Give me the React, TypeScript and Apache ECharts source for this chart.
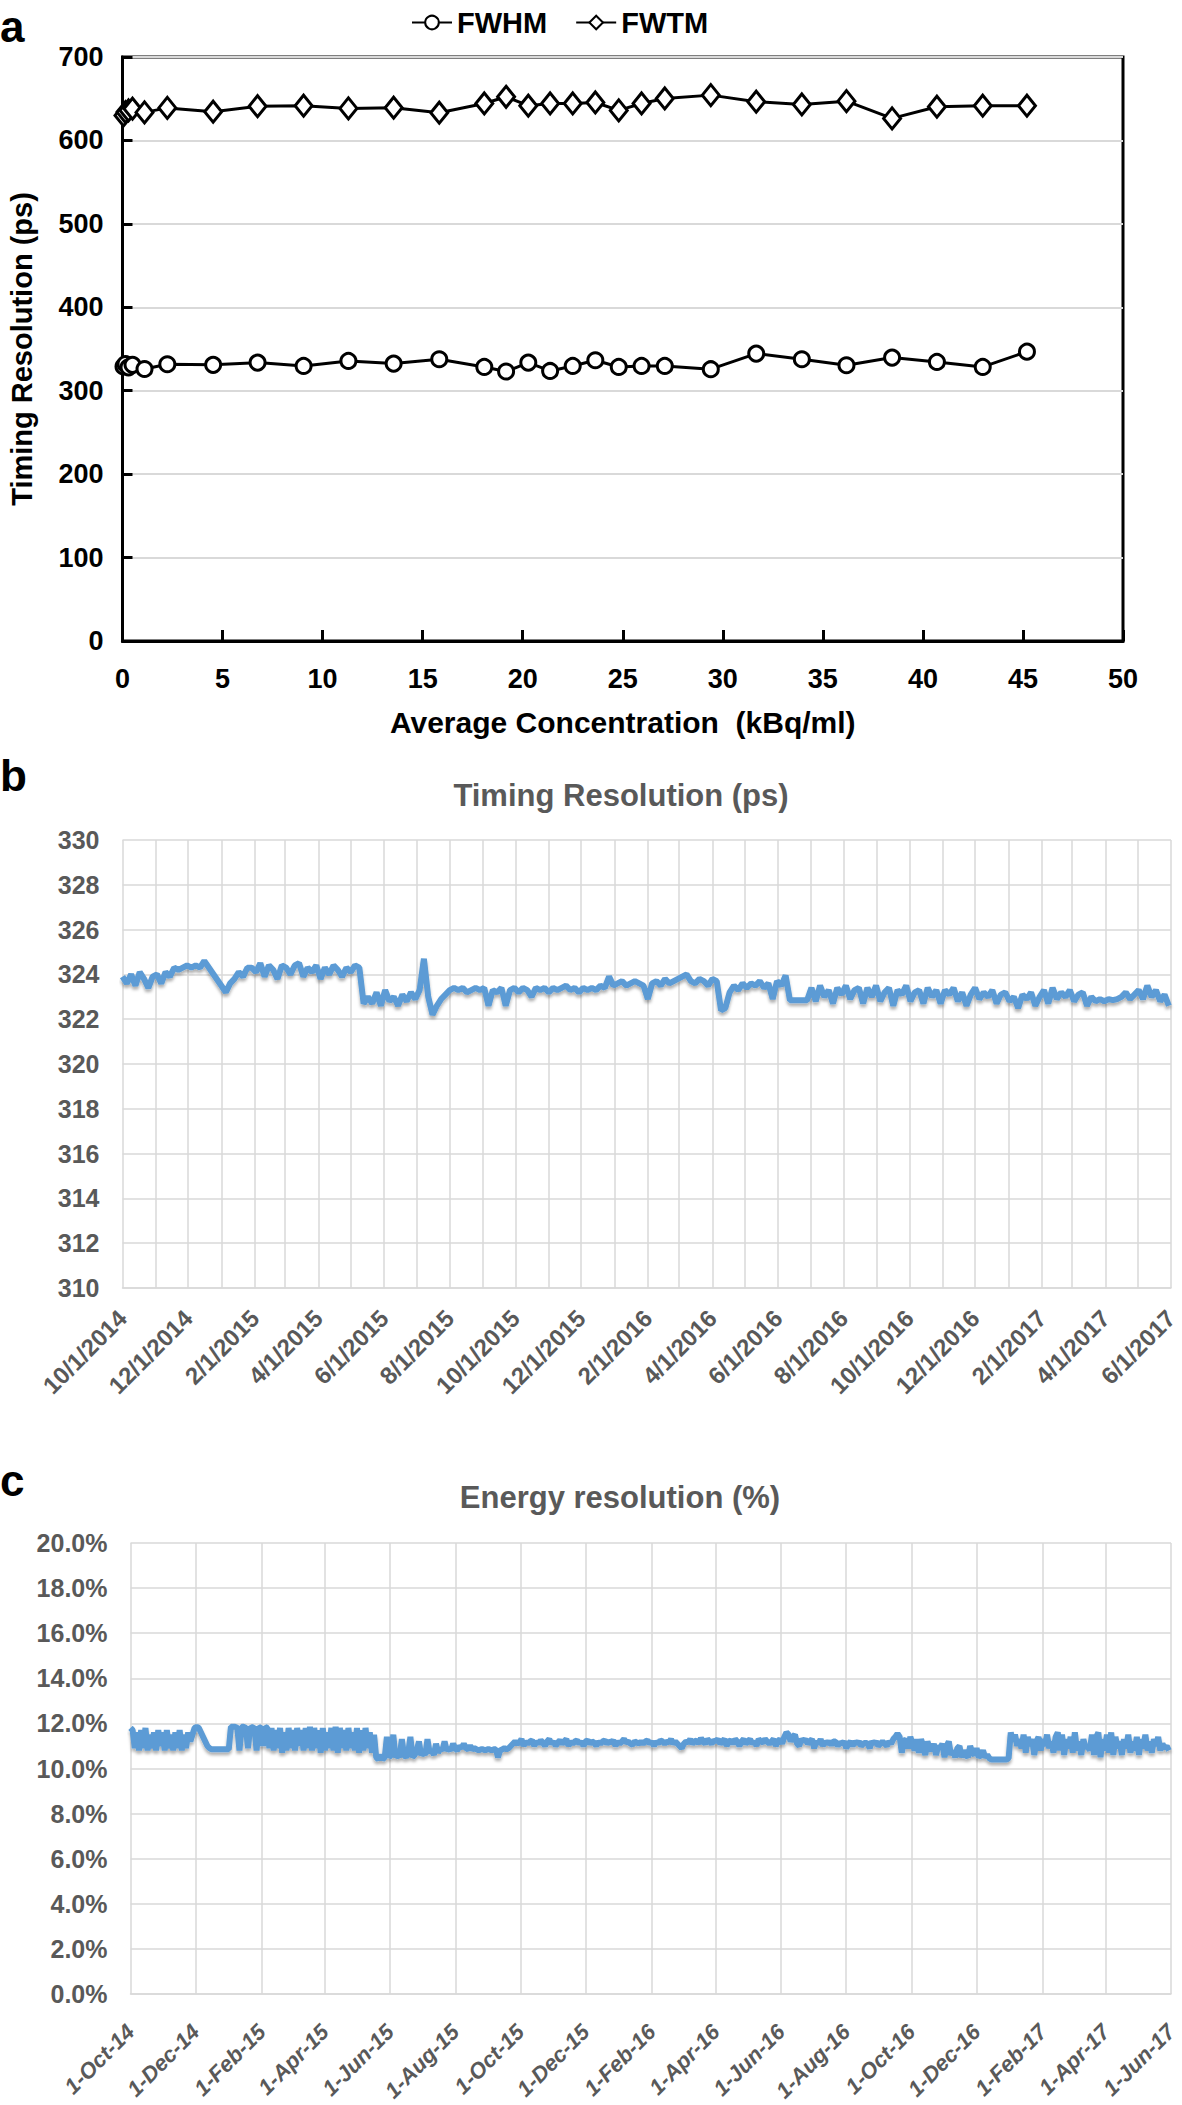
import React, { useEffect, useRef } from "react";
import * as echarts from "echarts";

// ---------- Panel a: timing resolution vs. activity concentration ----------
const concentration = [
  0.05, 0.15, 0.3, 0.5, 1.1, 2.24, 4.53, 6.75, 9.05, 11.29, 13.55, 15.83, 18.08, 19.17,
  20.28, 21.37, 22.5, 23.63, 24.8, 25.94, 27.1, 29.4, 31.67, 33.95, 36.18, 38.46, 40.7,
  42.99, 45.2,
];
const fwhm = [
  329, 332, 328, 331, 326, 331.7, 331, 333.7, 329.7, 335.7, 332.5, 337.7, 328.5, 323,
  333.7, 323.7, 329.7, 336.5, 328.5, 329.7, 329.7, 325.8, 344.5, 337.7, 330.5, 339.7,
  334.5, 328.5, 346.8,
];
const fwtm = [
  630, 634, 636, 638, 633.6, 639, 634.4, 641, 641.6, 638.4, 639.2, 633.2, 644.3, 652.3,
  641.6, 644.3, 644.3, 645.5, 636, 644.3, 650.3, 654.3, 646.4, 643.1, 647.1, 626.4,
  640.4, 641.6, 641.6,
];

// ---------- Panels b / c: daily monitoring (sampled) ----------
const PERIOD_START_UTC = Date.UTC(2014, 9, 1);
const PERIOD_END_UTC = Date.UTC(2017, 5, 1);
const TIMING_STEP_DAYS = 4;
const ENERGY_STEP_DAYS = 2;
const MONTH_ABBR = ["Jan", "Feb", "Mar", "Apr", "May", "Jun", "Jul", "Aug", "Sep", "Oct", "Nov", "Dec"];

// Timing resolution (ps), one sample every 4 days; null = gap bridged by a straight line
const timingResolution = [
  323.9, 323.6, 324.0, 323.5, 324.1, 323.8, 323.4, 323.9, 324.0, 323.6,
  324.1, 323.9, 324.3, 324.2, 324.3, 324.4, 324.3, 324.4, 324.3, 324.6,
  null, null, null, null, 323.2, 323.6, 323.8, 324.1, 323.9, 324.3,
  324.3, 324.1, 324.5, 323.9, 324.4, 324.2, 323.8, 324.4, 324.3, 324.0,
  324.4, 324.5, 323.9, 324.3, 324.1, 324.4, 323.8, 324.3, 324.0, 324.4,
  324.2, 323.9, 324.3, 324.1, 324.4, 324.3, 322.7, 323.0, 322.7, 323.2,
  322.6, 323.3, 322.8, 323.0, 322.6, 323.1, 322.8, 323.2, 322.9, 323.3,
  324.7, 323.0, 322.2, 322.6, 322.9, 323.1, 323.3, 323.4, 323.3, 323.4,
  323.2, 323.3, 323.4, 323.3, 323.4, 322.6, 323.3, 323.2, 323.4, 322.6,
  323.3, 323.4, 323.2, 323.4, 323.3, 323.0, 323.4, 323.3, 323.4, 323.2,
  323.4, 323.3, 323.4, 323.5, 323.3, 323.4, 323.2, 323.4, 323.3, 323.4,
  323.3, 323.5, 323.4, 323.9, 323.5, 323.6, 323.7, 323.5, 323.6, 323.7,
  323.6, 323.5, 322.9, 323.6, 323.7, 323.5, 323.8, 323.6, 323.7, 323.8,
  323.9, 324.0, 323.7, 323.6, 323.8, 323.7, 323.5, 323.8, 323.7, 322.4,
  322.5, 323.2, 323.5, 323.3, 323.6, 323.4, 323.6, 323.5, 323.7, 323.4,
  323.6, 322.9, 323.7, 323.5, 323.95, 322.85, null, null, null, 322.85,
  323.4, 322.8, 323.5, 323.0, 323.3, 322.7, 323.4, 323.1, 323.5, 322.9,
  323.3, 323.4, 322.7, 323.4, 323.0, 323.5, 322.8, 323.2, 323.4, 322.6,
  323.3, 323.1, 323.5, 322.8, 323.2, 323.3, 322.7, 323.4, 323.0, 323.3,
  322.7, 323.3, 323.1, 323.4, 322.8, 323.2, 322.6, 323.1, 323.4, 322.9,
  323.2, 323.0, 323.3, 322.7, 323.1, 323.2, 322.8, 323.0, 322.5, 323.1,
  322.9, 323.2, 322.6, 323.0, 323.3, 322.7, 323.4, 322.9, 323.2, 323.0,
  323.3, 322.8, 323.1, 323.2, 322.6, 323.0, 322.8, 322.9, 322.8, 322.9,
  322.85, 322.9, 323.0, 323.2, 322.9, 323.1, 323.3, 322.9, 323.5, 323.0,
  323.3, 322.8, 323.1, 322.6,
];

// Energy resolution (%), one sample every 2 days; null = gap bridged by a straight line
const energyResolution = [
  // Oct 2014 - Jan 2015
  11.8, 11.7, 10.9, 11.6, 10.8, 11.7, 10.9, 11.8, 10.8, 11.5,
  10.9, 11.6, 10.8, 11.7, 11.0, 11.6, 10.8, 11.7, 10.9, 11.5,
  10.8, 11.6, 10.9, 11.7, 10.8, 11.5, 10.9, 11.6,
  11.2, 11.5, 11.8, 11.85, 11.8, 11.6, 11.4, 11.2, 11.0, 10.9, 10.85, 10.85,
  10.85, null, null, null, null, null, 10.85,
  11.85, 11.85,
  11.85, 11.8, 10.8, 11.85, 11.85, 11.8, 10.9, 11.85, 11.8, 11.85, 10.8, 11.85, 11.8, 11.0, 11.85, 11.8, 10.9,
  // Feb 2015 - May 2015
  11.8, 10.8, 11.7, 10.9, 11.8, 10.7, 11.6, 10.8, 11.8, 10.9,
  11.7, 10.8, 11.8, 11.0, 11.7, 10.8, 11.8, 10.9, 11.85, 10.8,
  11.8, 10.9, 11.7, 10.7, 11.8, 10.8, 11.6, 10.9, 11.8, 10.8,
  11.85, 10.7, 11.8, 10.9, 11.7, 10.8, 11.8, 10.9, 11.6, 10.8,
  11.8, 10.7, 11.7, 10.8, 11.8, 10.9, 11.6, 10.7, 11.5,
  10.5, 10.4, 10.6, 10.4, 10.5, 11.4,
  // Jun 2015 - Aug 2015
  10.5, 10.6, 11.5, 10.5, 10.6, 10.5, 11.3, 10.6, 10.5, 10.7,
  11.4, 10.5, 10.6, 10.8, 11.2, 10.6, 10.7, 10.6, 11.3, 10.7,
  10.8, 10.6, 11.1, 10.7, 10.9, 10.8, 11.2, 10.8, 10.9, 10.8,
  11.1, 10.9, 10.8, 11.0, 10.9, 11.1, 10.9, 10.85, 11.0,
  10.85, 10.9, 10.85, 10.8, 10.85, 10.85, 10.8, 10.85, 10.85, 10.8,
  10.85, 10.85, 10.5, 10.8, 10.85, 10.9, 10.85, 10.9, 11.0, 11.1,
  // Sep 2015 - Sep 2016
  11.2, 11.1, 11.15, 11.3, 11.0, 11.2, 11.1, 11.2, 11.25, 11.0,
  11.2, 11.1, 11.25, 11.15, 11.0, 11.2, 11.3, 11.1, 11.2, 11.0,
  11.15, 11.25, 11.1, 11.2, 11.3, 11.0, 11.2, 11.1, 11.2, 11.25,
  11.1, 11.2, 11.0, 11.2, 11.25, 11.1, 11.2, 11.15, 11.0, 11.2,
  11.1, 11.2, 11.25, 11.1, 11.2, 11.15, 11.25, 11.0, 11.2, 11.1,
  11.2, 11.3, 11.15, 11.2, 11.1, 11.05, 11.2, 11.15, 11.1, 11.2,
  11.1, 11.2, 11.25, 11.1, 11.2, 11.0, 11.2, 11.1, 11.25, 11.2,
  11.1, 11.2, 11.15, 11.3, 11.1, 11.2, 11.1, 11.0, 10.9, 11.1,
  11.2, 11.15, 11.3, 11.1, 11.2, 11.25, 11.1, 11.35, 11.2, 11.1,
  11.3, 11.2, 11.1, 11.25, 11.2, 11.3, 11.1, 11.2, 11.3, 11.0,
  11.2, 11.25, 11.1, 11.3, 11.2, 11.0, 11.2, 11.3, 11.1, 11.2,
  11.3, 11.1, 11.2, 11.0, 11.3, 11.2, 11.15, 11.3, 11.2, 11.1,
  11.2, 11.3, 11.0, 11.2, 11.3, 11.1, 11.4, 11.6, 11.5, 11.2,
  11.4, 11.5, 11.1, 11.0, 11.3, 11.2, 11.3, 11.1, 11.2, 11.3,
  10.9, 11.2, 11.1, 11.3, 11.0, 11.2, 11.1, 11.2, 11.05, 11.2,
  11.2, 11.0, 11.15, 11.1, 11.2, 10.9, 11.1, 11.2, 11.0, 11.2,
  11.1, 11.2, 11.0, 11.1, 11.15, 11.1, 10.9, 11.2, 11.1, 11.2,
  11.0, 11.1, 11.2, 11.1, 11.0, 11.2, 11.1, 11.3, 11.4,
  // Sep 2016 - Dec 2016
  11.55, 11.4, 10.7, 11.2, 11.3, 10.9, 11.4, 11.1, 10.8, 11.3,
  10.7, 11.3, 11.0, 10.6, 11.2, 10.9, 10.8, 11.1, 10.6, 11.0,
  10.9, 11.1,
  10.5, 11.0, 11.2, 10.6, 10.8, 10.5, 10.9, 11.0, 10.5, 10.8,
  10.6, 10.5, 11.0, 10.7, 10.6, 10.9, 10.5, 10.6, 10.8, 10.5,
  10.6, 10.45, 10.4,
  10.4, null, null, null, null, null, 10.4, 10.45, 11.6,
  // Jan 2017 - Jun 2017
  11.2, 11.5, 11.0, 11.3, 10.9, 11.5, 10.7, 11.4, 11.0, 11.3,
  10.6, 11.2, 11.4, 10.8, 11.3, 11.0, 11.5, 10.9, 11.2, 10.7,
  11.4, 11.6, 10.8, 11.5, 10.6, 11.3, 10.9, 11.4, 10.7, 11.6,
  10.8, 11.2, 10.6, 11.3, 10.9, 11.0, 10.8, 11.5, 10.6, 11.4,
  11.6, 10.5, 11.3, 10.8, 11.5, 10.7, 11.6, 10.6, 11.4, 10.9,
  11.2, 10.6, 11.3, 10.9, 11.5, 10.7, 11.2, 10.8, 11.4, 10.6,
  11.3, 10.9, 11.5, 10.8, 11.2, 10.7, 11.3, 11.0, 11.4, 10.8,
  11.1, 10.9, 11.0, 10.8,
];

const FONT = '"Liberation Sans", Arial, Helvetica, sans-serif';
const GRAY_TEXT = "#595959";
const GRID_GRAY = "#d9d9d9";
const BLUE = "#5b9bd5";

function buildDayCategories(): string[] {
  const out: string[] = [];
  for (let t = PERIOD_START_UTC; t <= PERIOD_END_UTC; t += 86400000) {
    const d = new Date(t);
    out.push(
      `${d.getUTCFullYear()}-${String(d.getUTCMonth() + 1).padStart(2, "0")}-${String(
        d.getUTCDate()
      ).padStart(2, "0")}`
    );
  }
  return out;
}

function placeSamples(samples: (number | null)[], step: number, nDays: number) {
  const out: (number | null)[] = new Array(nDays).fill(null);
  samples.forEach((v, i) => {
    const idx = i * step;
    if (idx < nDays) out[idx] = v;
  });
  return out;
}

const isMonthStart = (v: string) => v.endsWith("-01");
const isEvenMonthStart = (v: string) => v.endsWith("-01") && Number(v.slice(5, 7)) % 2 === 0;
const fmtSlash = (v: string) => {
  const [y, m, d] = v.split("-").map(Number);
  return `${m}/${d}/${y}`;
};
const fmtDash = (v: string) => {
  const [y, m, d] = v.split("-").map(Number);
  return `${d}-${MONTH_ABBR[m - 1]}-${String(y).slice(2)}`;
};

export default function App() {
  const ref = useRef<HTMLDivElement>(null);

  useEffect(() => {
    if (!ref.current) return;
    const chart = echarts.init(ref.current, null, { renderer: "svg" });
    const days = buildDayCategories();
    const timingData = placeSamples(timingResolution, TIMING_STEP_DAYS, days.length);
    const energyData = placeSamples(energyResolution, ENERGY_STEP_DAYS, days.length);

    const boldBlack = { fontFamily: FONT, fontWeight: "bold" as const, color: "#000" };
    const boldGray = { fontFamily: FONT, fontWeight: "bold" as const, color: GRAY_TEXT };
    const blueLine = {
      color: BLUE, width: 6,
      shadowColor: "rgba(0,0,0,0.3)", shadowBlur: 3, shadowOffsetY: 3,
    };
    const panelLabel = (text: string, y: number) => ({
      type: "text", x: 0, y,
      style: { text, fill: "#000", font: `bold 44px ${FONT}`, align: "left", verticalAlign: "middle" },
    });

    const option: any = {
      animation: false,
      backgroundColor: "#ffffff",
      legend: {
        data: ["FWHM", "FWTM"],
        left: 406,
        top: 3,
        itemWidth: 40,
        itemHeight: 17,
        itemGap: 28,
        textStyle: { ...boldBlack, fontSize: 29 },
      },
      grid: [
        {
          left: 122.5, top: 57, width: 1000.5, height: 584,
          show: true, borderColor: "#000", borderWidth: 3, backgroundColor: "transparent",
          outerBoundsMode: "none",
        },
        { left: 122.5, top: 840, width: 1048.5, height: 448, outerBoundsMode: "none" },
        { left: 130.5, top: 1543, width: 1040.5, height: 451, outerBoundsMode: "none" },
      ],
      xAxis: [
        {
          gridIndex: 0, type: "value", min: 0, max: 50, interval: 5,
          name: "Average Concentration  (kBq/ml)", nameLocation: "middle", nameGap: 66,
          nameTextStyle: { ...boldBlack, fontSize: 30 },
          axisLine: { show: true, onZero: false, lineStyle: { color: "#000", width: 3 } },
          axisTick: { show: true, inside: true, length: 11, lineStyle: { color: "#000", width: 3 } },
          axisLabel: { ...boldBlack, fontSize: 27, margin: 24 },
          splitLine: { show: false },
        },
        {
          gridIndex: 1, type: "category", data: days, boundaryGap: false,
          axisLine: { show: true, lineStyle: { color: GRID_GRAY, width: 1.5 } },
          axisTick: { show: false },
          axisLabel: {
            ...boldGray, fontSize: 24, rotate: 45, margin: 26,
            interval: (_i: number, v: string) => isEvenMonthStart(v),
            formatter: fmtSlash,
          },
          splitLine: {
            show: true,
            interval: (_i: number, v: string) => isMonthStart(v),
            lineStyle: { color: GRID_GRAY, width: 1.5 },
          },
        },
        {
          gridIndex: 2, type: "category", data: days, boundaryGap: false,
          axisLine: { show: true, lineStyle: { color: GRID_GRAY, width: 1.5 } },
          axisTick: { show: false },
          axisLabel: {
            ...boldGray, fontStyle: "italic", fontSize: 22, rotate: 45, margin: 34,
            interval: (_i: number, v: string) => isEvenMonthStart(v),
            formatter: fmtDash,
          },
          splitLine: {
            show: true,
            interval: (_i: number, v: string) => isEvenMonthStart(v),
            lineStyle: { color: GRID_GRAY, width: 1.5 },
          },
        },
      ],
      yAxis: [
        {
          gridIndex: 0, type: "value", min: 0, max: 700, interval: 100,
          name: "Timing Resolution (ps)", nameLocation: "middle", nameGap: 86, nameRotate: 90,
          nameTextStyle: { ...boldBlack, fontSize: 29 },
          axisLine: { show: true, onZero: false, lineStyle: { color: "#000", width: 3 } },
          axisTick: { show: true, inside: true, length: 10, lineStyle: { color: "#000", width: 3 } },
          axisLabel: { ...boldBlack, fontSize: 27, margin: 19 },
          splitLine: { show: true, lineStyle: { color: GRID_GRAY, width: 2 } },
        },
        {
          gridIndex: 1, type: "value", min: 310, max: 330, interval: 2,
          axisLine: { show: false }, axisTick: { show: false },
          axisLabel: { ...boldGray, fontSize: 25, margin: 23 },
          splitLine: { show: true, lineStyle: { color: GRID_GRAY, width: 1.5 } },
        },
        {
          gridIndex: 2, type: "value", min: 0, max: 20, interval: 2,
          axisLine: { show: false }, axisTick: { show: false },
          axisLabel: { ...boldGray, fontSize: 25, margin: 23, formatter: (v: number) => `${v.toFixed(1)}%` },
          splitLine: { show: true, lineStyle: { color: GRID_GRAY, width: 1.5 } },
        },
      ],
      series: [
        {
          name: "FWHM", type: "line", xAxisIndex: 0, yAxisIndex: 0, clip: false,
          data: concentration.map((x, i) => [x, fwhm[i]]),
          symbol: "circle", symbolSize: 15,
          lineStyle: { color: "#000", width: 3 },
          itemStyle: { color: "#fff", borderColor: "#000", borderWidth: 3 },
          z: 3,
        },
        {
          name: "FWTM", type: "line", xAxisIndex: 0, yAxisIndex: 0, clip: false,
          data: concentration.map((x, i) => [x, fwtm[i]]),
          symbol: "diamond", symbolSize: [17, 21],
          lineStyle: { color: "#000", width: 3 },
          itemStyle: { color: "#fff", borderColor: "#000", borderWidth: 3 },
          z: 3,
        },
        {
          name: "Timing Resolution (ps)", type: "line", xAxisIndex: 1, yAxisIndex: 1,
          data: timingData, connectNulls: true, showSymbol: false, symbol: "none",
          lineStyle: blueLine,
        },
        {
          name: "Energy resolution (%)", type: "line", xAxisIndex: 2, yAxisIndex: 2,
          data: energyData, connectNulls: true, showSymbol: false, symbol: "none",
          lineStyle: blueLine,
        },
      ],
      graphic: [
        panelLabel("a", 26),
        panelLabel("b", 775),
        panelLabel("c", 1480),
        { type: "text", x: 621, y: 795, style: { text: "Timing Resolution (ps)", fill: GRAY_TEXT, font: `bold 31px ${FONT}`, align: "center", verticalAlign: "middle" } },
        { type: "text", x: 620, y: 1497, style: { text: "Energy resolution (%)", fill: GRAY_TEXT, font: `bold 31px ${FONT}`, align: "center", verticalAlign: "middle" } },
      ],
    };

    chart.setOption(option);
    return () => chart.dispose();
  }, []);

  return (
    <div
      ref={ref}
      style={{ position: "absolute", left: 0, top: 0, width: 1182, height: 2105, background: "#fff" }}
    />
  );
}
